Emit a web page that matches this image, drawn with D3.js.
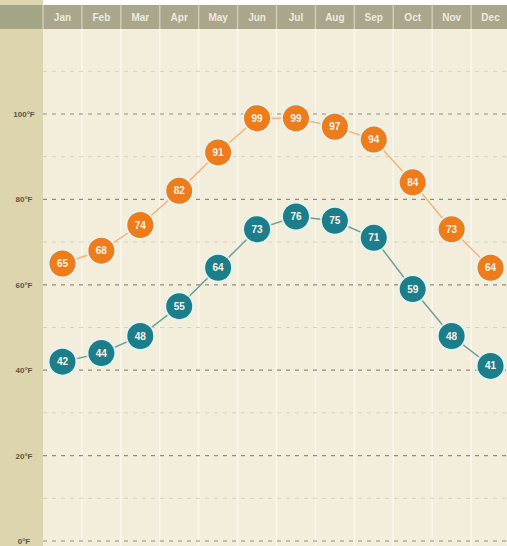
<!DOCTYPE html>
<html>
<head>
<meta charset="utf-8">
<script src="https://cdn.jsdelivr.net/npm/d3@7"></script>
<style>
  html, body { margin: 0; padding: 0; background: #ffffff; }
  svg { display: block; }
  text { font-family: "Liberation Sans", Arial, sans-serif; }
</style>
</head>
<body>
<svg id="chart" width="507" height="546"></svg>
<script>
// Monthly average temperatures (°F)
const months = ["Jan","Feb","Mar","Apr","May","Jun","Jul","Aug","Sep","Oct","Nov","Dec"];
const highs  = [65, 68, 74, 82, 91, 99, 99, 97, 94, 84, 73, 64];
const lows   = [42, 44, 48, 55, 64, 73, 76, 75, 71, 59, 48, 41];
const majorTicks = [0, 20, 40, 60, 80, 100];
const minorTicks = [10, 30, 50, 70, 90, 110];

const W = 507, H = 546;
const svg = d3.select("#chart");

const x = d3.scaleBand().domain(months).range([43, 510]).padding(0);
const y = d3.scaleLinear().domain([0, 100]).range([541, 114]);

const plotTop = 29, plotBottom = 546;

// left label column
svg.append("rect").attr("x", 0).attr("y", 0).attr("width", 43).attr("height", H)
  .attr("fill", "#ddd5ae");

// month columns
svg.append("g").selectAll("rect").data(months).join("rect")
  .attr("x", d => x(d)).attr("y", plotTop)
  .attr("width", x.bandwidth()).attr("height", plotBottom - plotTop)
  .attr("fill", "#f3eedc");

// column separators
svg.append("g").selectAll("line").data(months.slice(1)).join("line")
  .attr("x1", d => x(d)).attr("x2", d => x(d))
  .attr("y1", plotTop).attr("y2", plotBottom)
  .attr("stroke", "#f9f6ec").attr("stroke-width", 1.5);

// header band
svg.append("rect").attr("x", 0).attr("y", 5).attr("width", W).attr("height", 24)
  .attr("fill", "#a9a68c");
svg.append("rect").attr("x", 0).attr("y", 5).attr("width", 43).attr("height", 24)
  .attr("fill", "#a3a686");
svg.append("g").selectAll("line").data(months).join("line")
  .attr("x1", d => x(d)).attr("x2", d => x(d))
  .attr("y1", 5).attr("y2", 29)
  .attr("stroke", "#cfcbb4").attr("stroke-width", 1.5);
svg.append("g").selectAll("text").data(months).join("text")
  .attr("x", d => x(d) + x.bandwidth() / 2).attr("y", 21)
  .attr("text-anchor", "middle")
  .attr("font-size", 10).attr("font-weight", "bold")
  .attr("fill", "#eeeade")
  .text(d => d);

// gridlines
svg.append("g").selectAll("line").data(minorTicks).join("line")
  .attr("x1", 43).attr("x2", W)
  .attr("y1", d => y(d)).attr("y2", d => y(d))
  .attr("stroke", "#d4d0c0").attr("stroke-width", 1)
  .attr("stroke-dasharray", "4,5");
svg.append("g").selectAll("line").data(majorTicks).join("line")
  .attr("x1", 43).attr("x2", W)
  .attr("y1", d => y(d)).attr("y2", d => y(d))
  .attr("stroke", "#8e8c80").attr("stroke-width", 1.2)
  .attr("stroke-dasharray", "4,5");

// y labels
svg.append("g").selectAll("text").data(majorTicks).join("text")
  .attr("x", 24).attr("y", d => y(d) + 3)
  .attr("text-anchor", "middle")
  .attr("font-size", 8).attr("font-weight", "bold")
  .attr("fill", "#57564c")
  .text(d => d + "°F");

function drawSeries(values, lineColor, dotColor) {
  const pts = values.map((v, i) => [x(months[i]) + x.bandwidth() / 2, y(v), v]);
  const line = d3.line().x(d => d[0]).y(d => d[1]);
  svg.append("path").attr("d", line(pts))
    .attr("fill", "none").attr("stroke", lineColor).attr("stroke-width", 1.5);
  const g = svg.append("g").selectAll("g").data(pts).join("g")
    .attr("transform", d => `translate(${d[0]},${d[1]})`);
  g.append("circle").attr("r", 15).attr("fill", "#e2f4f1").attr("opacity", 0.8);
  g.append("circle").attr("r", 13).attr("fill", dotColor);
  g.append("text").attr("y", 3.5).attr("text-anchor", "middle")
    .attr("font-size", 10).attr("font-weight", "bold")
    .attr("fill", "#fdf3e6")
    .text(d => d[2]);
}

drawSeries(highs, "#f0b67a", "#ef7c1b");
drawSeries(lows, "#6f9e9c", "#1c7e8b");
</script>
</body>
</html>
